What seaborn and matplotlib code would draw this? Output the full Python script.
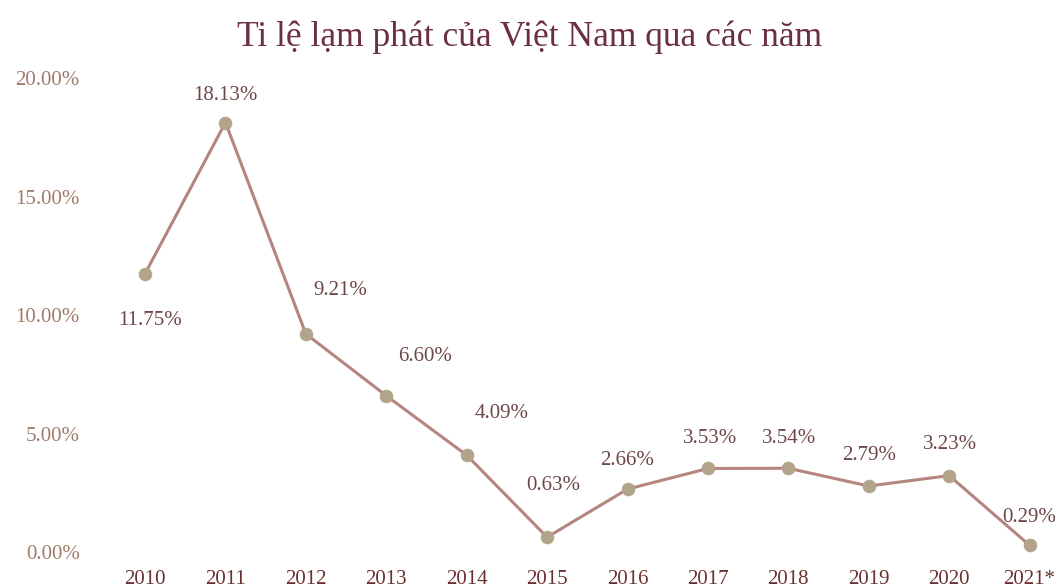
import matplotlib
matplotlib.use("Agg")
import matplotlib.pyplot as plt
import seaborn as sns
import pandas as pd

years = ["2010", "2011", "2012", "2013", "2014", "2015", "2016",
         "2017", "2018", "2019", "2020", "2021*"]
inflation = [11.75, 18.13, 9.21, 6.60, 4.09, 0.63, 2.66,
             3.53, 3.54, 2.79, 3.23, 0.29]
# label offsets (pixels) relative to each point
label_dx = [5, 0, 34, 39, 35, 6, 0, 2, 1, 0, 1, 0]
label_dy = [-47, 27, 43, 39, 42, 52, 29, 30, 30, 31, 31, 28]

title = "Ti lệ lạm phát của Việt Nam qua các năm"

sns.set_theme(style="white")
plt.rcParams['font.family'] = ['Liberation Serif', 'DejaVu Serif']

df = pd.DataFrame({"year": years, "rate": inflation})

fig = plt.figure(figsize=(10.59, 5.88), dpi=100)
ax = fig.add_axes([0.099, 0.061, 0.896, 0.806])

sns.lineplot(data=df, x="year", y="rate", ax=ax, color="#b58580", lw=2.2,
             marker="o", markersize=9, markerfacecolor="#b2a48a",
             markeredgecolor="#b2a48a", sort=False)

for i, (v, dx, dy) in enumerate(zip(inflation, label_dx, label_dy)):
    ax.annotate(f"{v:.2f}%", (i, v), xytext=(dx, dy),
                textcoords="offset pixels", ha="center", va="center",
                fontsize=15, color="#6e4646")

ax.set_xlim(-0.5, 11.3)
ax.set_ylim(0, 20)
ax.set_yticks([0, 5, 10, 15, 20])
ax.set_yticklabels([f"{t:.2f}%" for t in [0, 5, 10, 15, 20]])
ax.tick_params(axis="y", labelsize=15, labelcolor="#a07a6a", length=0, pad=18)
ax.tick_params(axis="x", labelsize=15, labelcolor="#6a3030", length=0, pad=13)
ax.set_xlabel("")
ax.set_ylabel("")
for s in ax.spines.values():
    s.set_visible(False)
ax.grid(False)

fig.text(0.5, 0.937, title, ha="center", va="center", fontsize=25.5,
         color="#6b3040")

fig.savefig("out.png", dpi=100)
